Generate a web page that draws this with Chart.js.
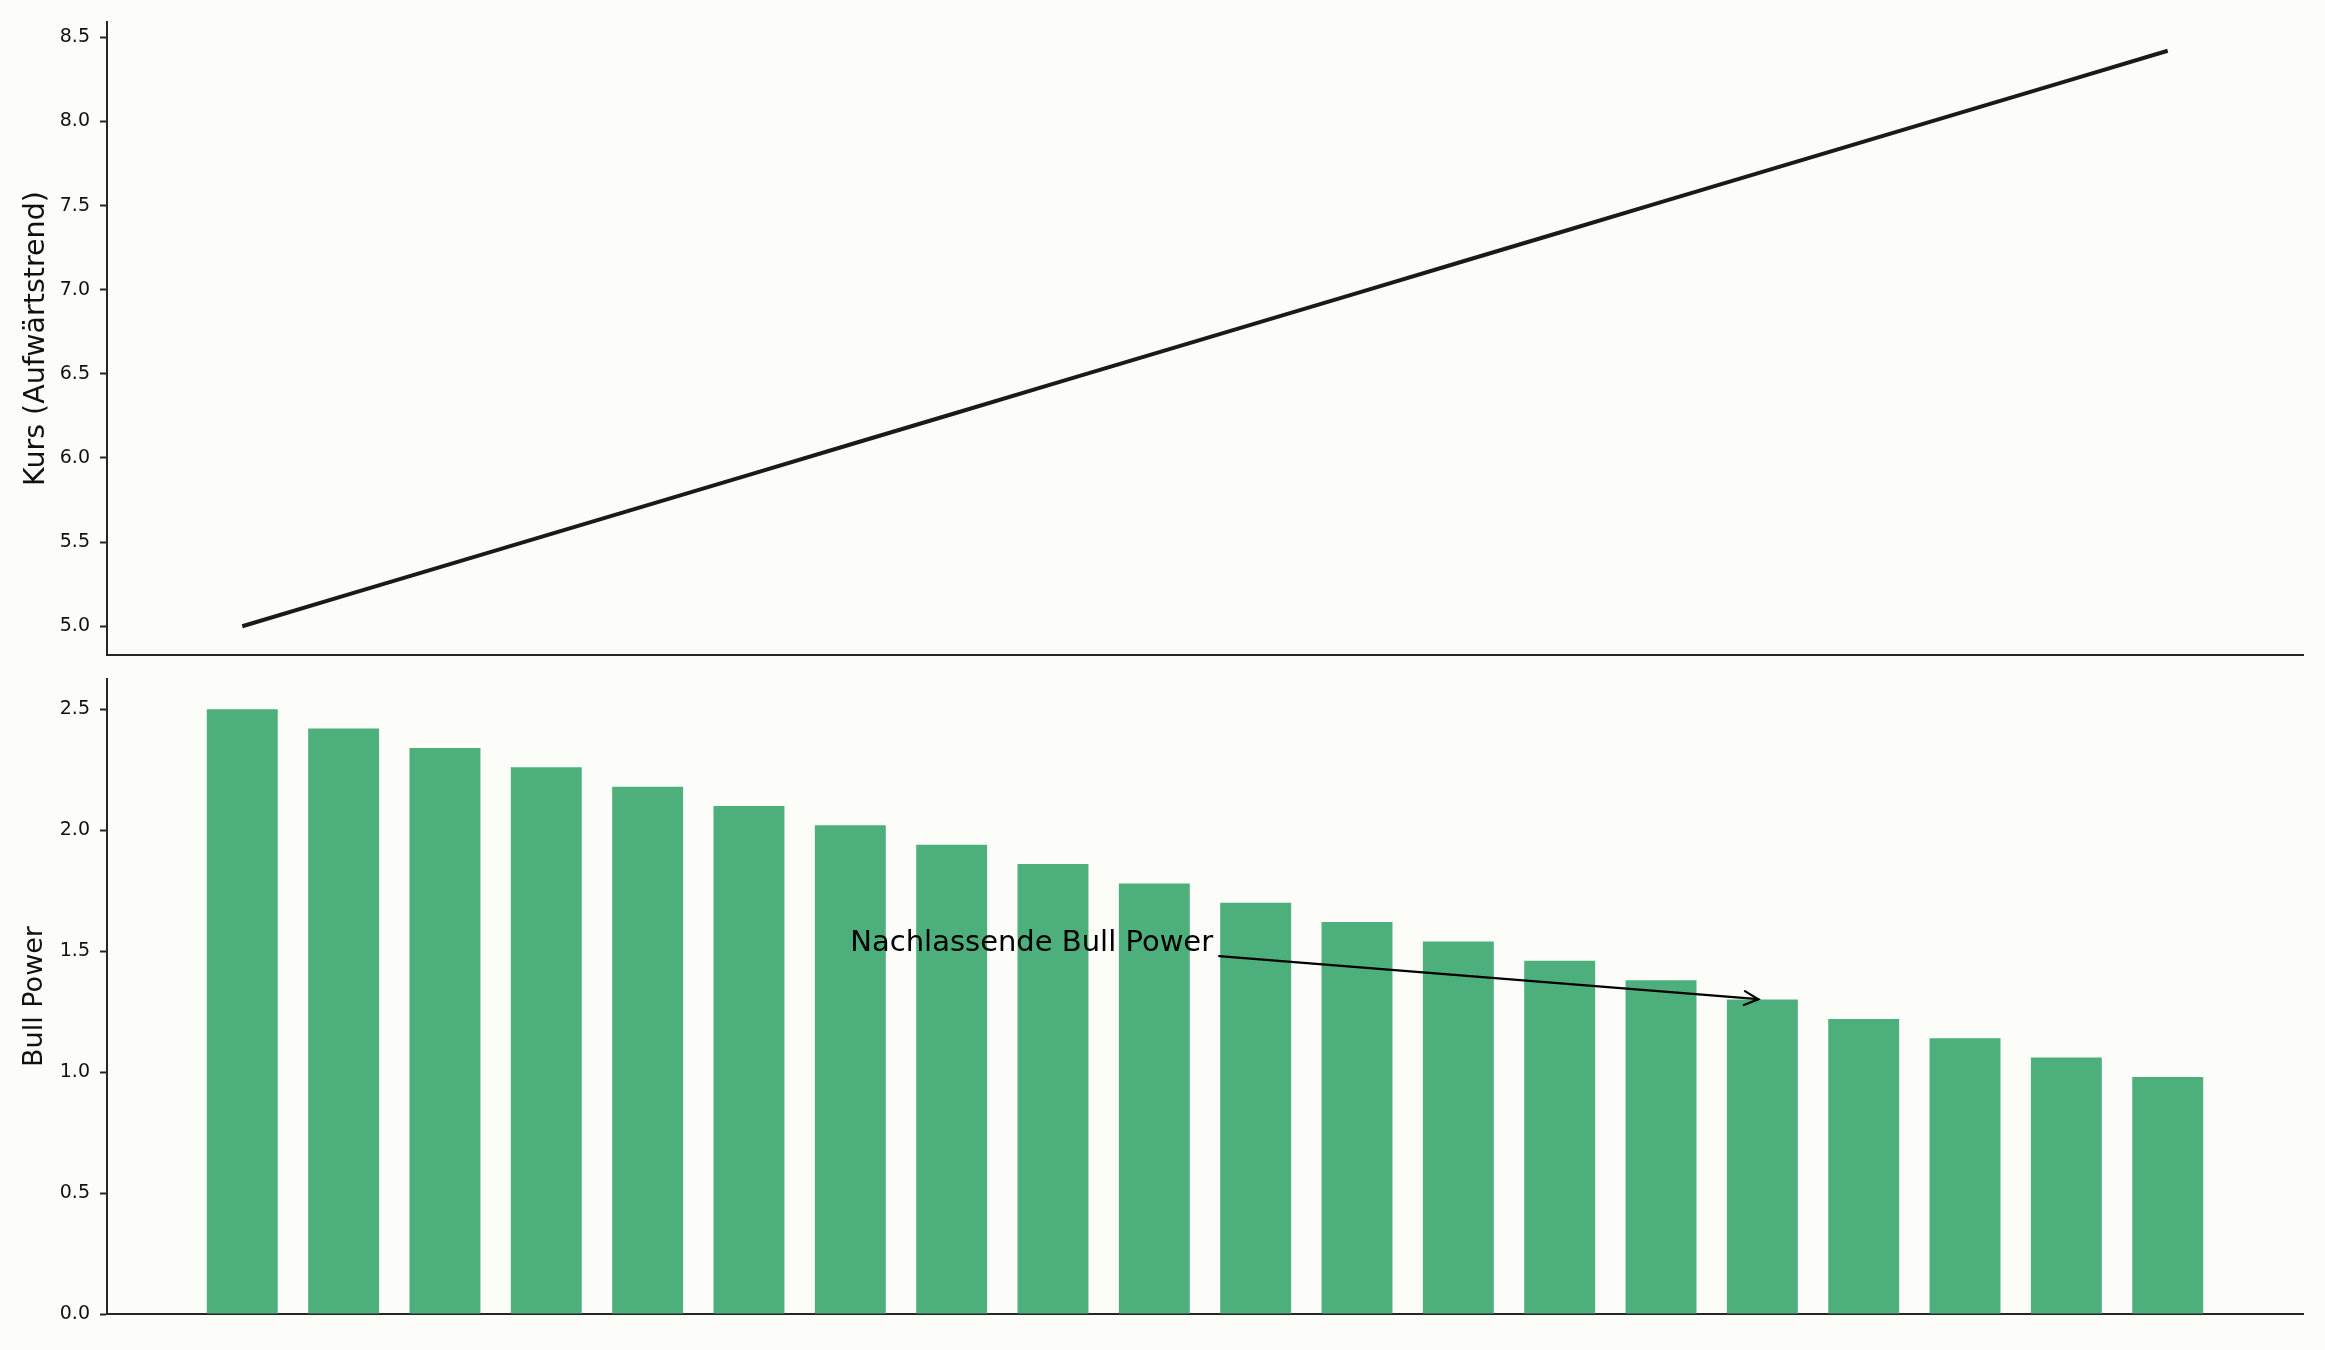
<!DOCTYPE html>
<html>
<head>
<meta charset="utf-8">
<script src="https://cdn.jsdelivr.net/npm/chart.js@4/dist/chart.umd.min.js"></script>
<style>
  html, body { margin: 0; padding: 0; background: #fcfdf8; }
  body { width: 2325px; height: 1350px; position: relative; overflow: hidden; }
  canvas { position: absolute; left: 0; }
  #kursChart { top: 0; }
  #bullChart { top: 667px; }
</style>
</head>
<body>
<canvas id="kursChart" width="2325" height="667"></canvas>
<canvas id="bullChart" width="2325" height="683"></canvas>
<script>
// data
const periods = [0, 1, 2, 3, 4, 5, 6, 7, 8, 9, 10, 11, 12, 13, 14, 15, 16, 17, 18, 19];
const kurs = [5.00, 5.18, 5.36, 5.54, 5.72, 5.90, 6.08, 6.26, 6.44, 6.62,
              6.80, 6.98, 7.16, 7.34, 7.52, 7.70, 7.88, 8.06, 8.24, 8.42];
const bullPower = [2.50, 2.42, 2.34, 2.26, 2.18, 2.10, 2.02, 1.94, 1.86, 1.78,
                   1.70, 1.62, 1.54, 1.46, 1.38, 1.30, 1.22, 1.14, 1.06, 0.98];
const kursTicks = [5.0, 5.5, 6.0, 6.5, 7.0, 7.5, 8.0, 8.5];
const bullTicks = [0.0, 0.5, 1.0, 1.5, 2.0, 2.5];

const annotation = { text: 'Nachlassende Bull Power', from: [6, 1.5], to: [15, 1.3] };

const FONT = 'DejaVu Sans';
const AXIS = '#262626';
Chart.defaults.font.family = FONT;
Chart.defaults.color = '#111';
Chart.defaults.animation = false;

// shared x range (matplotlib style margins around the bars)
const xMin = -1.335, xMax = 20.335;

function xScale(height) {
    return {
        type: 'linear', min: xMin, max: xMax, offset: false,
        ticks: { display: false },
        grid: { display: false, drawTicks: false, offset: false },
        border: { display: true, color: AXIS, width: 2 },
        afterFit: s => { s.height = height; s.paddingLeft = 0; s.paddingRight = 0; }
    };
}

function yScale(min, max, ticks, title, titleSize) {
    return {
        min: min, max: max,
        afterBuildTicks: s => { s.ticks = ticks.map(v => ({ value: v })); },
        ticks: { font: { size: 19 }, color: '#111', padding: 10, callback: v => v.toFixed(1) },
        grid: { drawOnChartArea: false, drawTicks: true, tickLength: 7, tickWidth: 2, color: AXIS },
        border: { display: true, color: AXIS, width: 2 },
        title: { display: true, text: title, font: { size: titleSize }, color: '#111', padding: { top: 19, bottom: 0 } },
        afterFit: s => { s.width = 107; s.paddingTop = 0; s.paddingBottom = 0; }
    };
}

function fillBg(id) {
    return {
        id: id,
        beforeDraw(chart) {
            const c = chart.ctx;
            c.save();
            c.fillStyle = '#fcfdf8';
            c.fillRect(0, 0, chart.width, chart.height);
            c.restore();
        }
    };
}

new Chart(document.getElementById('kursChart'), {
    type: 'line',
    data: {
        datasets: [{
            data: periods.map((p, i) => ({ x: p, y: kurs[i] })),
            borderColor: '#1a1a1a',
            borderWidth: 4,
            pointRadius: 0,
            tension: 0
        }]
    },
    options: {
        responsive: false,
        devicePixelRatio: 1,
        layout: { padding: { top: 22, right: 22, left: 0, bottom: 0 } },
        plugins: { legend: { display: false }, tooltip: { enabled: false } },
        scales: {
            x: xScale(12),
            y: yScale(4.829, 8.591, kursTicks, 'Kurs (Aufwärtstrend)', 28.5)
        }
    },
    plugins: [fillBg('bg1')]
});

const arrowPlugin = {
    id: 'arrow',
    afterDatasetsDraw(chart) {
        const c = chart.ctx;
        const xs = chart.scales.x, ys = chart.scales.y;
        const tx = xs.getPixelForValue(annotation.from[0]);
        const ty = ys.getPixelForValue(annotation.from[1]);
        const ax = xs.getPixelForValue(annotation.to[0]);
        const ay = ys.getPixelForValue(annotation.to[1]);

        c.save();
        c.font = '29px ' + FONT;
        c.fillStyle = '#000';
        c.textBaseline = 'alphabetic';
        c.textAlign = 'left';
        c.fillText(annotation.text, tx, ty);
        const m = c.measureText(annotation.text);
        const asc = m.fontBoundingBoxAscent || 27, desc = m.fontBoundingBoxDescent || 7;
        const cx = tx + m.width / 2;
        const cy = ty - (asc - desc) / 2;
        const hw = m.width / 2 + 2, hh = (asc + desc) / 2 + 2;

        let dx = ax - cx, dy = ay - cy;
        const len = Math.hypot(dx, dy);
        dx /= len; dy /= len;
        const t = Math.min(hw / Math.abs(dx || 1e-9), hh / Math.abs(dy || 1e-9)) + 4;
        const sx = cx + dx * t, sy = cy + dy * t;
        const ex = ax - dx * 4, ey = ay - dy * 4;

        c.strokeStyle = '#000';
        c.lineWidth = 2.2;
        c.lineCap = 'round';
        c.beginPath();
        c.moveTo(sx, sy);
        c.lineTo(ex, ey);
        c.stroke();

        const hl = 14, hwid = 7;
        const px = -dy, py = dx;
        c.beginPath();
        c.moveTo(ex - dx * hl + px * hwid, ey - dy * hl + py * hwid);
        c.lineTo(ex, ey);
        c.lineTo(ex - dx * hl - px * hwid, ey - dy * hl - py * hwid);
        c.stroke();
        c.restore();
    }
};

new Chart(document.getElementById('bullChart'), {
    type: 'bar',
    data: {
        datasets: [{
            data: periods.map((p, i) => ({ x: p, y: bullPower[i] })),
            backgroundColor: '#4daf7c',
            borderWidth: 0,
            barPercentage: 0.7,
            categoryPercentage: 1.0
        }]
    },
    options: {
        responsive: false,
        devicePixelRatio: 1,
        layout: { padding: { top: 12, right: 22, left: 0, bottom: 0 } },
        plugins: { legend: { display: false }, tooltip: { enabled: false } },
        scales: {
            x: xScale(36),
            y: yScale(0, 2.625, bullTicks, 'Bull Power', 27)
        }
    },
    plugins: [fillBg('bg2'), arrowPlugin]
});
</script>
</body>
</html>
